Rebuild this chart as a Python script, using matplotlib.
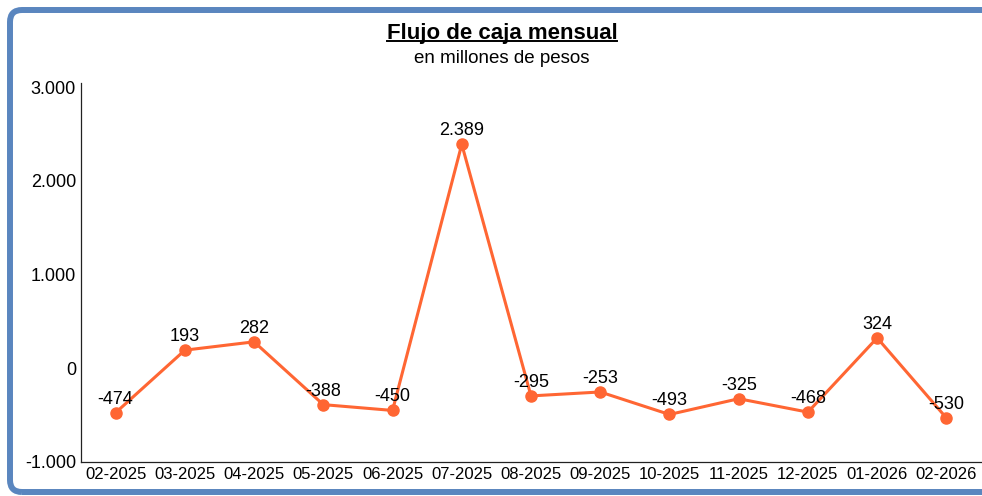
import matplotlib
matplotlib.use("Agg")
import matplotlib.pyplot as plt
import matplotlib.patches as mpatches
import matplotlib.transforms as mtrans
from matplotlib.lines import Line2D
from matplotlib.ticker import FuncFormatter, FixedLocator

meses = ['02-2025', '03-2025', '04-2025', '05-2025', '06-2025', '07-2025', '08-2025',
         '09-2025', '10-2025', '11-2025', '12-2025', '01-2026', '02-2026']
flujo = [-474, 193, 282, -388, -450, 2389, -295, -253, -493, -325, -468, 324, -530]
yticks = [-1000, 0, 1000, 2000, 3000]

naranja = '#FF6633'
azul = '#5A86BF'

plt.rcParams['font.family'] = ['Liberation Sans', 'DejaVu Sans']


def fmt_miles(v, pos=None):
    return f"{v:,.0f}".replace(',', '.')


fig = plt.figure(figsize=(9.82, 4.96), dpi=100)
W, H = 982, 496
ax = fig.add_axes([81 / W, 34 / H, 900 / W, 379 / H])

x = list(range(len(meses)))
ax.plot(x, flujo, color=naranja, lw=2.2, marker='o', ms=8, zorder=3)
for xi, v in zip(x, flujo):
    ax.annotate(fmt_miles(v), (xi, v), xytext=(0, 6.5), textcoords='offset points',
                ha='center', va='baseline', fontsize=13, color='black', zorder=4)

ax.set_xlim(-0.5, len(meses) - 0.5)
ax.set_ylim(-1000, 3043)
ax.set_xticks(x)
ax.set_xticklabels(meses, fontsize=12)
ax.yaxis.set_major_locator(FixedLocator(yticks))
ax.yaxis.set_major_formatter(FuncFormatter(fmt_miles))
ax.tick_params(axis='y', length=0, pad=3.6, labelsize=13)
ax.tick_params(axis='x', length=0, pad=3.5)
for s in ['top', 'right']:
    ax.spines[s].set_visible(False)
for s in ['left', 'bottom']:
    ax.spines[s].set_color('#222222')
    ax.spines[s].set_linewidth(0.9)

# titulo con subrayado
titulo = fig.text(502 / W, (H - 39) / H, 'Flujo de caja mensual', ha='center',
                  va='baseline', fontsize=16, fontweight='bold')
fig.text(502 / W, (H - 63) / H, 'en millones de pesos', ha='center',
         va='baseline', fontsize=13.5)

fig.canvas.draw()
bb = titulo.get_window_extent()
uy = H - 41
fig.add_artist(Line2D([bb.x0, bb.x1], [uy, uy], color='black', lw=1.4,
                      transform=mtrans.IdentityTransform()))

# marco azul redondeado
marco = mpatches.FancyBboxPatch((10, 4), 1000, 482,
                                boxstyle='round,pad=0,rounding_size=12',
                                transform=mtrans.IdentityTransform(),
                                lw=4.3, ec=azul, fc='none', clip_on=False)
fig.add_artist(marco)

fig.savefig('out.png', dpi=100)
